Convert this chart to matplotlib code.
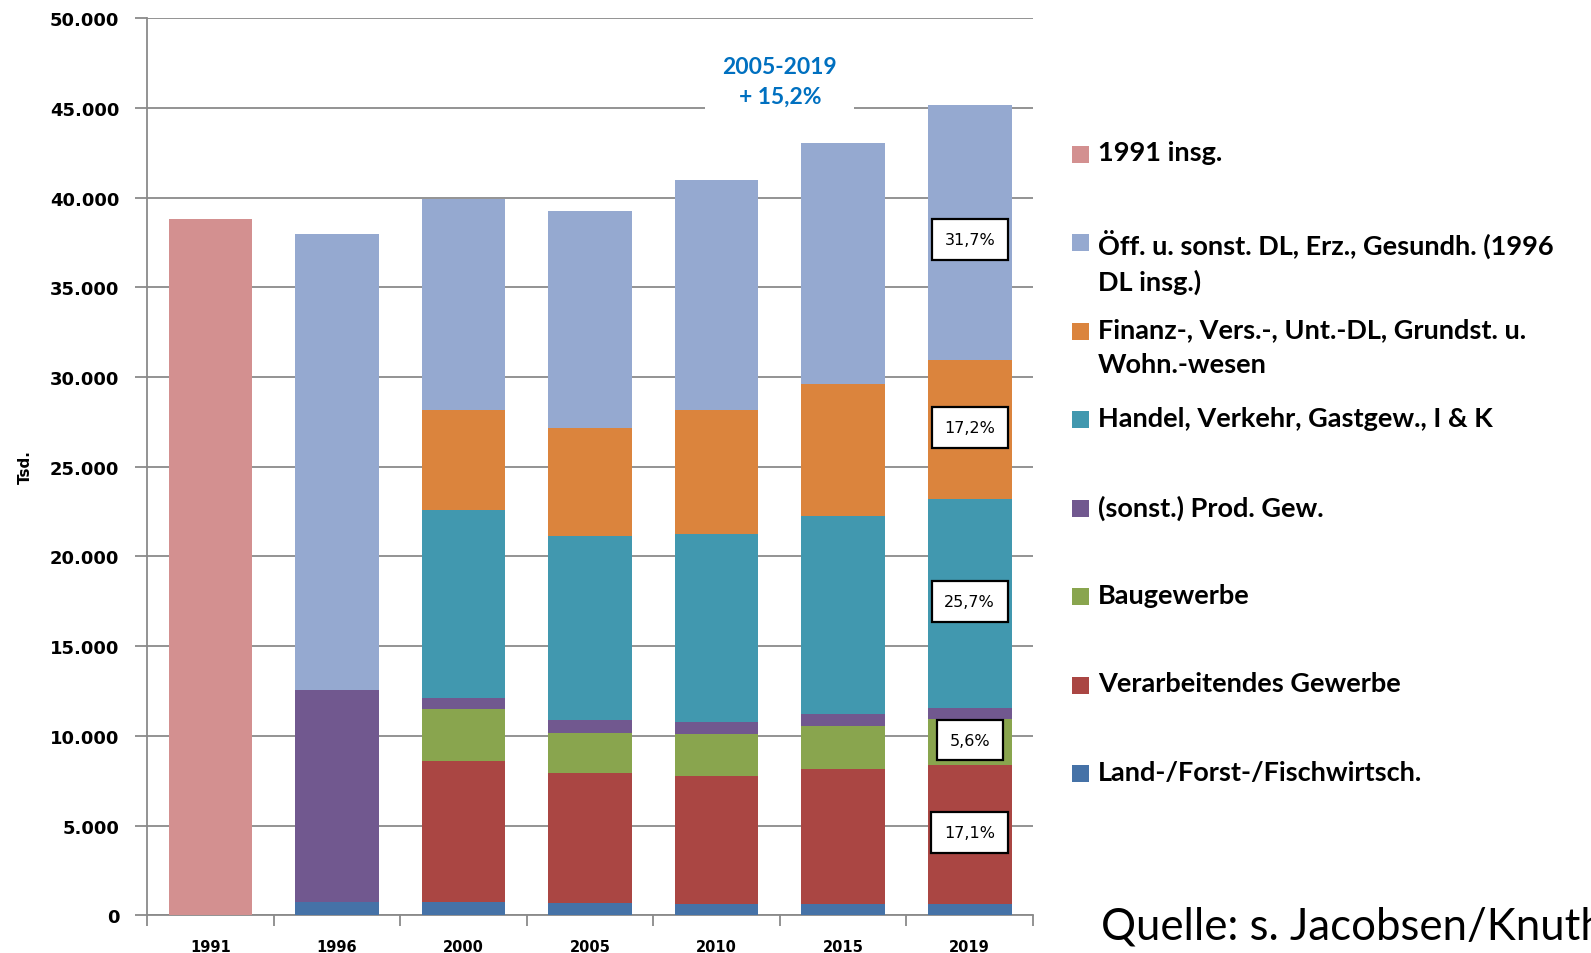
import matplotlib.pyplot as plt
from matplotlib.patches import Rectangle
from matplotlib.ticker import FuncFormatter
import numpy as np

# Jahre / Kategorien
years = ["1991", "1996", "2000", "2005", "2010", "2015", "2019"]

# Erwerbstätige in Tsd., von unten nach oben gestapelt
total_1991 = [38800, 0, 0, 0, 0, 0, 0]
land = [0, 750, 750, 700, 620, 620, 620]
verarb = [0, 0, 7850, 7220, 7130, 7520, 7750]
bau = [0, 0, 2880, 2260, 2370, 2440, 2550]
prod = [0, 11800, 620, 680, 630, 620, 620]
handel = [0, 0, 10500, 10290, 10520, 11030, 11650]
finanz = [0, 0, 5570, 6000, 6900, 7410, 7750]
oeff = [0, 25400, 11760, 12100, 12830, 13400, 14250]

# Anteile 2019 (Beschriftung im letzten Balken)
share_labels_2019 = {"oeff": "31,7%", "finanz": "17,2%", "handel": "25,7%",
                     "bau": "5,6%", "verarb": "17,1%"}

legend_labels = [
    "1991 insg.",
    "Öff. u. sonst. DL, Erz., Gesundh. (1996\nDL insg.)",
    "Finanz-, Vers.-, Unt.-DL, Grundst. u.\nWohn.-wesen",
    "Handel, Verkehr, Gastgew., I & K",
    "(sonst.) Prod. Gew.",
    "Baugewerbe",
    "Verarbeitendes Gewerbe",
    "Land-/Forst-/Fischwirtsch.",
]

colors = {
    "total": "#D39090",
    "oeff": "#95A9D0",
    "finanz": "#DB843D",
    "handel": "#4198AF",
    "prod": "#71588F",
    "bau": "#89A54E",
    "verarb": "#AA4643",
    "land": "#4572A7",
}

fig = plt.figure(figsize=(15.91, 9.54), dpi=100)
ax = fig.add_axes([0.0924, 0.0395, 0.5569, 0.9403])

x = np.arange(len(years))
width = 0.66

ax.bar(x, total_1991, width, color=colors["total"], zorder=3)

stack = [("land", land), ("verarb", verarb), ("bau", bau), ("prod", prod),
         ("handel", handel), ("finanz", finanz), ("oeff", oeff)]
bottom = np.zeros(len(years))
mids_2019 = {}
for key, vals in stack:
    vals = np.array(vals, dtype=float)
    ax.bar(x, vals, width, bottom=bottom, color=colors[key], zorder=3)
    mids_2019[key] = bottom[-1] + vals[-1] / 2
    bottom = bottom + vals

# Prozent-Boxen im Balken 2019 (oberste Box sitzt etwas tiefer)
nudge = {"oeff": -400}
for key, txt in share_labels_2019.items():
    ax.text(x[-1], mids_2019[key] + nudge.get(key, 120), txt, ha="center",
            va="center", fontsize=11.5, family="DejaVu Sans", zorder=5,
            bbox=dict(boxstyle="square,pad=0.8", facecolor="white",
                      edgecolor="black", linewidth=1.6))

# Zuwachs-Annotation
ax.text(4.5, 46500, "2005-2019\n+ 15,2%", ha="center", va="center",
        fontsize=16.5, fontweight="bold", color="#0070C0", family="Lato",
        linespacing=1.5, zorder=5,
        bbox=dict(boxstyle="square,pad=0.75", facecolor="white", edgecolor="none"))

ax.set_ylim(0, 50000)
ax.set_xlim(-0.5, len(years) - 0.5)
ax.set_yticks(np.arange(0, 50001, 5000))
ax.yaxis.set_major_formatter(FuncFormatter(lambda v, p: f"{int(v):,}".replace(",", ".")))
ax.grid(axis="y", color="#8A8A8A", linewidth=1.3, zorder=0)
ax.set_axisbelow(True)

ax.set_xticks(x)
ax.set_xticklabels(years)
ax.set_xticks(np.arange(-0.5, len(years)), minor=True)
ax.tick_params(axis="x", which="major", length=0, pad=17, labelsize=10.5)
ax.tick_params(axis="x", which="minor", length=8, color="#8A8A8A", width=1.3)
ax.tick_params(axis="y", length=9, color="#8A8A8A", width=1.3, pad=11, labelsize=13)
for lab in ax.get_xticklabels() + ax.get_yticklabels():
    lab.set_fontweight("bold")

for side in ["top", "right"]:
    ax.spines[side].set_visible(False)
for side in ["left", "bottom"]:
    ax.spines[side].set_color("#8A8A8A")
    ax.spines[side].set_linewidth(1.3)

fig.text(25 / 1591, 1 - 467 / 954, "Tsd.", rotation=90, ha="center", va="center",
         fontsize=11, fontweight="bold")

# Legende rechts
legend_colors = [colors[k] for k in ["total", "oeff", "finanz", "handel", "prod",
                                     "bau", "verarb", "land"]]
W, H = 1591, 954
for i, (lab, col) in enumerate(zip(legend_labels, legend_colors)):
    yc = (153 + 87.2 * i) * 1.0147
    fig.patches.append(Rectangle((1072 / W, 1 - (yc + 8.5) / H), 17 / W, 17 / H,
                                 transform=fig.transFigure, facecolor=col,
                                 edgecolor="none"))
    fig.text(1098 / W, 1 - (yc - 14) / H, lab, ha="left", va="top", fontsize=19.5,
             fontweight="bold", family="Lato", linespacing=1.52)

fig.text(1101 / W, 1 - 940 / H, "Quelle: s. Jacobsen/Knuth", ha="left",
         va="baseline", fontsize=31.5, family="Lato")

fig.savefig("out.png", dpi=100)
